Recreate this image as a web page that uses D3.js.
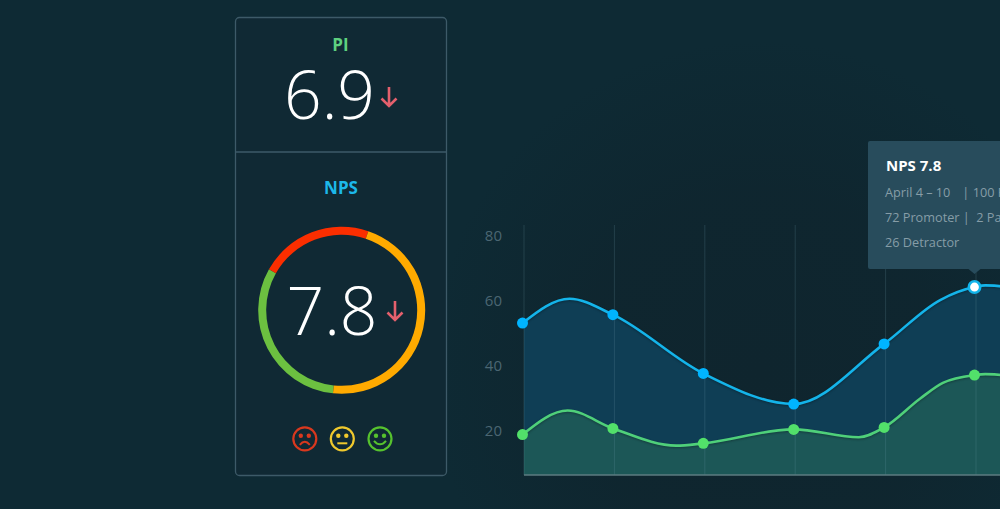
<!DOCTYPE html>
<html>
<head>
<meta charset="utf-8">
<script src="https://d3js.org/d3.v7.min.js"></script>
<style>
   html, body { margin: 0; padding: 0; background: #0e2a34; overflow: hidden; }
   svg { display: block; font-family: "Open Sans", sans-serif; }
   .axis path { display: none; }
</style>
</head>
<body>
<div id="chart"></div>
<script>
// data
var weeks = [0, 1, 2, 3, 4, 5];
var nps_values = [53.2, 55.8, 37.7, 28.3, 46.8, 64.3];
var pi_values = [18.9, 20.8, 16.2, 20.5, 21.1, 37.2];

// the drawn curves bend between the weeks, so they get their own readings
var nps_curve_weeks = [0, 0.52, 1, 2, 3, 4, 4.62, 5, 5.12, 6];
var nps_curve_values = [53.2, 60.7, 55.8, 37.7, 28.3, 46.8, 60.3, 64.3, 64.8, 60];
var pi_curve_weeks = [0, 0.5, 1, 1.7, 2, 3, 3.72, 4, 4.4, 4.65, 5, 5.12, 6];
var pi_curve_values = [18.9, 26.3, 20.8, 15.5, 16.2, 20.5, 18.1, 21.1, 30, 34.8, 37.2, 37.5, 33];

var y_ticks = [20, 40, 60, 80];
var gauge_values = [31.5, 22, 46.5];
var gauge_colors = ["#6cc040", "#fb2e00", "#ffaa00"];
var tooltip_title = "NPS 7.8";
var tooltip_lines = ["April 4 – 10   \u2009| 100 Responses", "72 Promoter |  2 Passive", "26 Detractor"];
var highlighted_week = 5;

var width = 1000, height = 509;

var svg = d3.select("#chart").append("svg")
   .attr("width", width)
   .attr("height", height);

var defs = svg.append("defs");
defs.append("clipPath").attr("id", "plotclip")
   .append("rect").attr("x", 524).attr("y", 200).attr("width", 476).attr("height", 275);

// background is darker around the plot
var glow = defs.append("radialGradient").attr("id", "bgdark")
   .attr("gradientUnits", "userSpaceOnUse")
   .attr("cx", 760).attr("cy", 370).attr("r", 330);
glow.append("stop").attr("offset", "0%").attr("stop-color", "#0f252e").attr("stop-opacity", 1);
glow.append("stop").attr("offset", "55%").attr("stop-color", "#0f252e").attr("stop-opacity", 0.8);
glow.append("stop").attr("offset", "100%").attr("stop-color", "#0f252e").attr("stop-opacity", 0);
svg.append("rect").attr("width", width).attr("height", height).style("fill", "url(#bgdark)");

// left panel
svg.append("rect")
   .attr("x", 235.5).attr("y", 17.5).attr("width", 211).attr("height", 458).attr("rx", 4)
   .style("fill", "#102934").style("stroke", "#3d5a68").style("stroke-width", 1.3);
svg.append("line")
   .attr("x1", 235.5).attr("x2", 446.5).attr("y1", 152).attr("y2", 152)
   .style("stroke", "#3d5a68").style("stroke-width", 1.3);

function big_text(x, y, str) {
   svg.append("text").text(str)
      .attr("x", x).attr("y", y).attr("text-anchor", "middle")
      .style("font-size", "66px").style("font-weight", 300).style("fill", "#ffffff");
}

function small_title(x, y, str, color) {
   svg.append("text").text(str)
      .attr("x", x).attr("y", y).attr("text-anchor", "middle")
      .style("font-size", "17px").style("font-weight", 700).style("fill", color);
}

function down_arrow(x, y) {
   // x, y is the tip of the arrow
   svg.append("path")
      .attr("d", "M" + x + "," + (y - 19) + "V" + y + "M" + (x - 7.5) + "," + (y - 7.5) + "L" + x + "," + y + "L" + (x + 7.5) + "," + (y - 7.5))
      .style("fill", "none").style("stroke", "#e4606d").style("stroke-width", 2.6);
}

small_title(340.5, 51, "PI", "#5ed07f");
big_text(329.5, 119, "6.9");
down_arrow(389, 106);

small_title(341, 194, "NPS", "#1cb8ea");
big_text(332, 335, "7.8");
down_arrow(395, 320);

// gauge ring, starts a bit past the bottom and goes clockwise
var pie = d3.pie().sort(null)
   .startAngle(186 * Math.PI / 180)
   .endAngle((186 + 360) * Math.PI / 180);
var arc = d3.arc().innerRadius(75.5).outerRadius(83.5);

svg.append("g").attr("transform", "translate(341.7,310.3)")
   .selectAll("path")
   .data(pie(gauge_values))
   .enter().append("path")
   .attr("d", arc)
   .style("fill", function (d, i) { return gauge_colors[i]; });

function smiley(cx, cy, color, mouth) {
   var g = svg.append("g").attr("transform", "translate(" + cx + "," + cy + ")");
   g.append("circle").attr("r", 11.5)
      .style("fill", "none").style("stroke", color).style("stroke-width", 2.2);
   g.append("circle").attr("cx", -4).attr("cy", -3).attr("r", 2.2).style("fill", color);
   g.append("circle").attr("cx", 4).attr("cy", -3).attr("r", 2.2).style("fill", color);
   g.append("path").attr("d", mouth)
      .style("fill", "none").style("stroke", color).style("stroke-width", 2);
}

smiley(304.8, 438.8, "#d9381e", "M-5,6Q0,0 5,6");
smiley(342.3, 438.8, "#f0c92d", "M-5,4.5H5");
smiley(380, 438.8, "#56c22e", "M-6,2Q0,9 6,2");

// chart on the right
var x = d3.scaleLinear().domain([0, 5]).range([522.5, 974.5]);
var y = d3.scaleLinear().domain([20, 80]).range([431, 236]);
var base_y = 475;

function curve_points(wk, vals) {
   return wk.map(function (w, i) { return [w, vals[i]]; });
}

var line = d3.line()
   .x(function (d) { return x(d[0]); })
   .y(function (d) { return y(d[1]); })
   .curve(d3.curveMonotoneX);

var area = d3.area()
   .x(function (d) { return x(d[0]); })
   .y0(base_y)
   .y1(function (d) { return y(d[1]); })
   .curve(d3.curveMonotoneX);

var nps_curve = curve_points(nps_curve_weeks, nps_curve_values);
var pi_curve = curve_points(pi_curve_weeks, pi_curve_values);

svg.append("path").datum(nps_curve)
   .attr("d", area).attr("clip-path", "url(#plotclip)")
   .style("fill", "#0f3e55");
svg.append("path").datum(pi_curve)
   .attr("d", area).attr("clip-path", "url(#plotclip)")
   .style("fill", "#1c5757");

// vertical grid lines come from the bottom axis ticks
var x_axis = d3.axisBottom(x).tickValues(weeks).tickSize(-250).tickFormat("");
var x_g = svg.append("g").attr("class", "axis").attr("transform", "translate(1," + base_y + ")").call(x_axis);
x_g.selectAll("line").style("stroke", "#6f9aa8").style("stroke-opacity", 0.22);

svg.append("line")
   .attr("x1", 524).attr("x2", 1000).attr("y1", base_y).attr("y2", base_y)
   .style("stroke", "#5d7b80").style("stroke-width", 1.6);

var y_axis = d3.axisLeft(y).tickValues(y_ticks).tickSize(0).tickPadding(0);
var y_g = svg.append("g").attr("class", "axis").attr("transform", "translate(502,0)").call(y_axis);
y_g.selectAll("text")
   .style("font-family", "'Open Sans', sans-serif")
   .style("font-size", "15px").style("fill", "#4b6672");

svg.append("path").datum(nps_curve).attr("d", line)
   .style("fill", "none").style("stroke", "#14b4ea").style("stroke-width", 2.6)
   .style("filter", "drop-shadow(0 1px 1px rgba(0,0,0,0.3))");
svg.append("path").datum(pi_curve).attr("d", line)
   .style("fill", "none").style("stroke", "#4fd07a").style("stroke-width", 2.6)
   .style("filter", "drop-shadow(0 1px 1px rgba(0,0,0,0.3))");

svg.selectAll(".pi-dot").data(pi_values)
   .enter().append("circle").attr("class", "pi-dot")
   .attr("cx", function (d, i) { return x(i); })
   .attr("cy", function (d) { return y(d); })
   .attr("r", 5.5).style("fill", "#52e06a");

svg.selectAll(".nps-dot").data(nps_values)
   .enter().append("circle").attr("class", "nps-dot")
   .attr("cx", function (d, i) { return x(i); })
   .attr("cy", function (d) { return y(d); })
   .attr("r", function (d, i) { return i == highlighted_week ? 5.7 : 5.5; })
   .style("fill", function (d, i) { return i == highlighted_week ? "#ffffff" : "#00b4ff"; })
   .style("stroke", function (d, i) { return i == highlighted_week ? "#12b4ea" : "none"; })
   .style("stroke-width", 2.6);

// tooltip above the highlighted point
var tip_x = x(highlighted_week);
var tip = svg.append("g");
tip.append("rect")
   .attr("x", 868).attr("y", 141).attr("width", 200).attr("height", 128).attr("rx", 2)
   .style("fill", "#284c5c");
tip.append("path")
   .attr("d", "M" + (tip_x - 6) + ",269L" + tip_x + ",274L" + (tip_x + 6) + ",269Z")
   .style("fill", "#284c5c");
tip.append("text").text(tooltip_title)
   .attr("x", 886).attr("y", 171)
   .style("font-size", "15px").style("font-weight", 700).style("fill", "#ffffff");
tip.selectAll(".tip-line").data(tooltip_lines)
   .enter().append("text").attr("class", "tip-line")
   .text(function (d) { return d; })
   .attr("x", 885)
   .attr("y", function (d, i) { return 197 + i * 25; })
   .style("white-space", "pre")
   .style("font-size", "12.7px").style("fill", "#869da7");
</script>
</body>
</html>
